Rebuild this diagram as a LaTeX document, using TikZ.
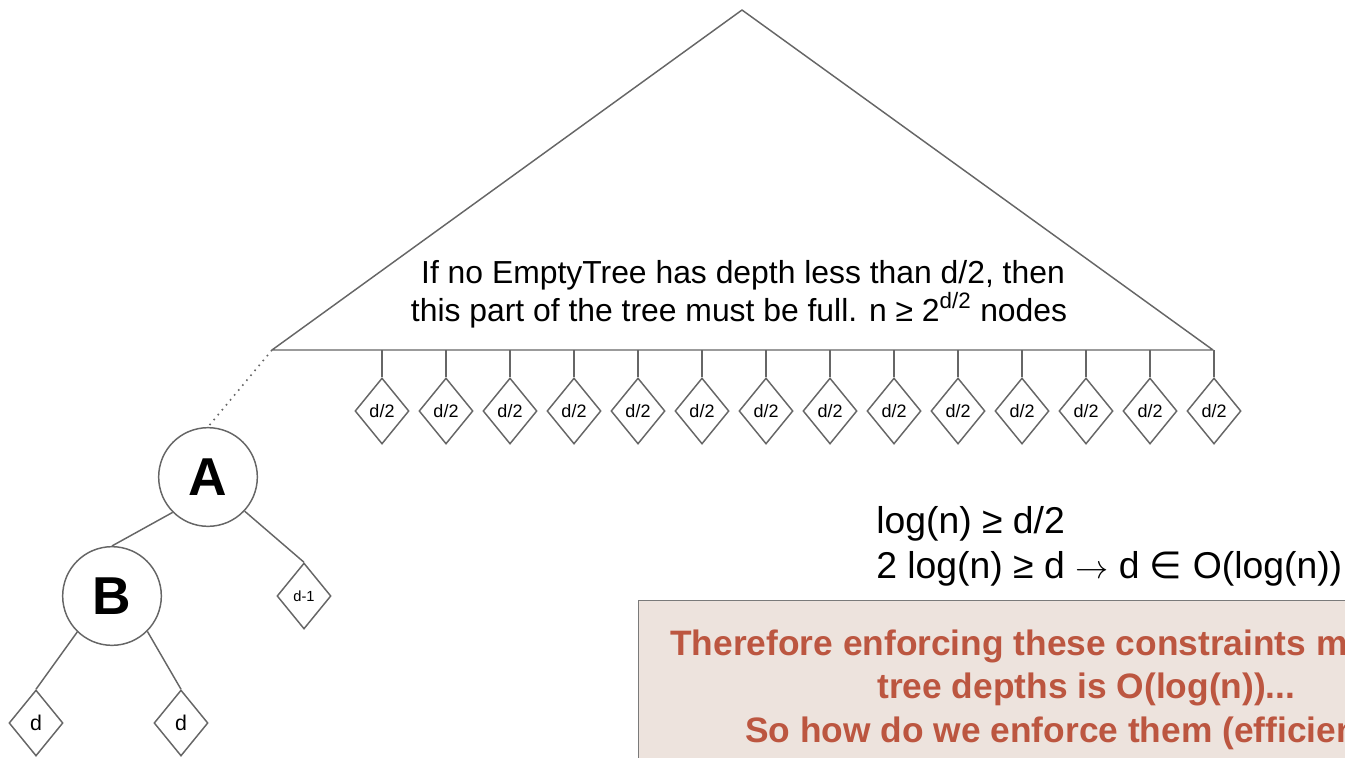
\documentclass[tikz,border=0pt]{standalone}
\usepackage{fontspec}
\setmainfont{Liberation Sans}
\newfontfamily\symfont{DejaVu Sans}
\usetikzlibrary{shapes.geometric}
\definecolor{edge}{HTML}{666666}
\definecolor{notefill}{HTML}{EDE3DD}
\definecolor{noteline}{HTML}{7A7A7A}
\definecolor{notetext}{HTML}{BC5640}
\tikzset{
  conn/.style={draw=edge, line width=1.1pt},
  leaf/.style={diamond, draw=edge, line width=1.1pt, fill=white,
    minimum width=40.5pt, minimum height=49.5pt, inner sep=0pt},
  treenode/.style={circle, draw=edge, line width=1.1pt, fill=white,
    minimum size=74pt, inner sep=0pt, font=\fontsize{40}{40}\selectfont\bfseries},
  bigtext/.style={font=\fontsize{23.9}{28.5}\selectfont, inner sep=0pt},
  mathtext/.style={font=\fontsize{28}{34}\selectfont, inner sep=0pt},
  notetxt/.style={font=\fontsize{26.5}{32}\selectfont\bfseries, text=notetext, inner sep=0pt},
}
\begin{document}
\begin{tikzpicture}[x=0.75pt,y=-0.75pt]
\useasboundingbox (0,0) rectangle (1345,757);
\clip (0,0) rectangle (1345,757);

% upper part of the tree, drawn as a triangle
\coordinate (apex) at (742,10);
\coordinate (tl) at (272,350);
\coordinate (tr) at (1213,350);
\draw[conn, line join=round] (tl) -- (apex) -- (tr) -- cycle;

\node[bigtext, anchor=base] (t1) at (743,283) {If no EmptyTree has depth less than d/2, then};
\node[bigtext, anchor=base] (t2) at (739,321) {this part of the tree must be full. n ≥ 2\textsuperscript{d/2} nodes};

% empty subtrees hanging from the full part
\foreach \i in {0,...,13} {
  \pgfmathsetmacro\xx{382+64*\i}
  \coordinate (s\i) at (\xx,350);
  \node[leaf, font=\fontsize{13.5}{14}\selectfont] (h\i) at (\xx,411) {d/2};
  \draw[conn] (s\i) -- (h\i.north);
}

% lower path down to A and B
\node[treenode] (A) at (208,477) {A};
\node[treenode] (B) at (112,596) {B};
\node[leaf, font=\fontsize{11}{12}\selectfont] (dm1) at (304,596) {d-1};
\node[leaf, font=\fontsize{16}{17}\selectfont] (dl) at (36,723) {d};
\node[leaf, font=\fontsize{16}{17}\selectfont] (dr) at (181,723) {d};

\draw[edge, line width=1.2pt, dash pattern=on 1.2pt off 3.6pt] (tl) -- (A.north);
\draw[conn] (A.225) -- (B.north);
\draw[conn] (A.-43) -- (dm1.north);
\draw[conn] (B.226) -- (dl.north);
\draw[conn] (B.-45) -- (dr.north);

% depth bound
\node[mathtext, anchor=base west] (m1) at (876,533) {log(n) ≥ d/2};
\node[mathtext, anchor=base west] (m2) at (876,578) {2 log(n) ≥ d $\rightarrow$ d {\symfont∈} O(log(n))};

% conclusion box
\node[draw=noteline, fill=notefill, line width=1.1pt, anchor=north west,
      minimum width=560pt, minimum height=150pt] (note) at (638,600) {};
\node[notetxt, anchor=base west] (n1) at (670,655) {Therefore enforcing these constraints means};
\node[notetxt, anchor=base west] (n2) at (877,698) {tree depths is O(log(n))...};
\node[notetxt, anchor=base west] (n3) at (745,742) {So how do we enforce them (efficiently)?};
\end{tikzpicture}
\end{document}
